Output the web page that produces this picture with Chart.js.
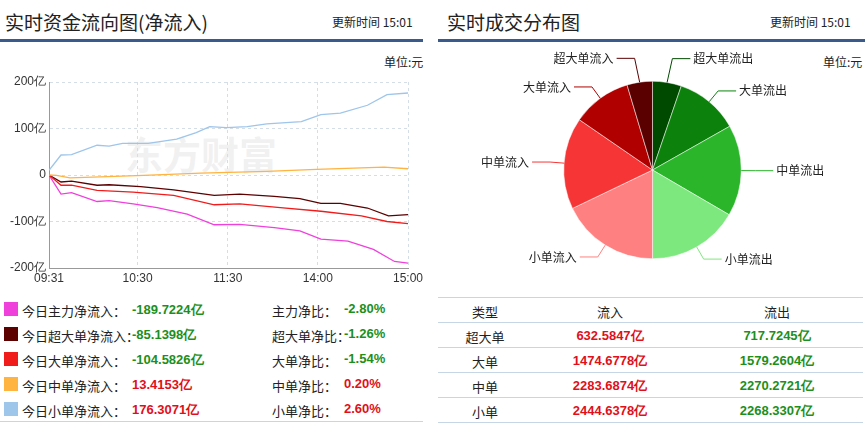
<!DOCTYPE html>
<html><head><meta charset="utf-8">
<script src="https://cdn.jsdelivr.net/npm/chart.js@4/dist/chart.umd.min.js"></script>
<style>
body{margin:0;width:865px;height:428px;background:#fff;font-family:"Microsoft YaHei","Noto Sans CJK SC",sans-serif;position:relative;overflow:hidden;color:#222}
.a{position:absolute;white-space:nowrap}
.t{font-size:19px;top:8px}
.u{font-size:12px;top:13px}
.bar{position:absolute;top:39px;height:3px;background:#3a5a8c}
.s{font-size:12px}
.g{color:#1c8f1c;font-weight:bold;font-family:Arial,"Liberation Sans",sans-serif}
.r{color:#e0101a;font-weight:bold;font-family:Arial,"Liberation Sans",sans-serif}
.hl{position:absolute;left:438px;width:425px;height:1px;background:#c7d6e4}
.sq{position:absolute;width:14px;height:14px;left:4px}
</style></head><body>
<div class="a t" style="left:5px">实时资金流向图(净流入)</div>
<div class="a u" style="left:332px">更新时间 15:01</div>
<div class="bar" style="left:0;width:423px"></div>
<div class="a t" style="left:447px">实时成交分布图</div>
<div class="a u" style="left:770px">更新时间 15:01</div>
<div class="bar" style="left:438px;width:427px"></div>
<div class="a s" style="left:384px;top:53px">单位:元</div>
<div class="a s" style="left:823px;top:53px">单位:元</div>
<div class="a" style="left:125px;top:125px;font-size:38px;font-weight:bold;color:rgba(200,200,200,0.25)">东方财富</div>
<canvas id="c1" style="position:absolute;left:0;top:62px"></canvas>
<canvas id="c2" style="position:absolute;left:440px;top:40px"></canvas>
<div id="leg"></div>
<div id="tbl"></div>
<script>
const timeLabels = ['09:31','10:30','11:30','14:00','15:00'];
const timeTicks = [0,59,119,179,239];
const mainMin = [0,8,15,32,40,56,72,92,110,127,150,167,181,199,216,230,239];
const mainVal = [0,-41,-38,-57,-55,-62,-70,-84,-107,-106,-113,-120,-138,-142,-160,-186,-189.7];
const superMin = [0,8,15,32,40,61,83,110,127,150,167,181,194,212,226,239];
const superVal = [0,-15,-13,-22,-21,-25,-32,-44,-41,-46,-51,-61,-61,-71,-88,-85.1];
const bigMin = [0,8,15,32,56,83,110,127,154,181,208,225,239];
const bigVal = [0,-22,-22,-33,-37,-44,-64,-62,-70,-78,-88,-100,-104.6];
const midMin = [0,5,14,34,63,101,145,178,223,239];
const midVal = [0,-1,-6,-4,-1,4,8,12,17,13.4];
const smallMin = [0,8,15,32,40,49,66,85,98,107,118,132,145,168,181,194,212,225,239];
const smallVal = [10,43,44,64,62,68,68,77,91,104,102,104,110,115,130,133,150,173,176.3];
const seriesNames = ['今日主力净流入','今日超大单净流入','今日大单净流入','今日中单净流入','今日小单净流入'];
const seriesColors = ['#f040dc','#5c0000','#f01c1c','#ffb340','#9ec5ea'];
const netValues = ['-189.7224亿','-85.1398亿','-104.5826亿','13.4153亿','176.3071亿'];
const ratioNames = ['主力净比','超大单净比','大单净比','中单净比','小单净比'];
const ratioValues = ['-2.80%','-1.26%','-1.54%','0.20%','2.60%'];
const pieLabels = ['超大单流出','大单流出','中单流出','小单流出','小单流入','中单流入','大单流入','超大单流入'];
const pieValues = [717.7245,1579.2604,2270.2721,2268.3307,2444.6378,2283.6874,1474.6778,632.5847];
const pieColors = ['#004a00','#0c820c','#2ab52a','#7de87d','#ff8080','#f63636','#b00000','#5a0000'];
const tblTypes = ['超大单','大单','中单','小单'];
const tblIn = ['632.5847亿','1474.6778亿','2283.6874亿','2444.6378亿'];
const tblOut = ['717.7245亿','1579.2604亿','2270.2721亿','2268.3307亿'];

const xs=[mainMin,superMin,bigMin,midMin,smallMin], ys=[mainVal,superVal,bigVal,midVal,smallVal];
const dsets = xs.map((m,i)=>({data:m.map((x,j)=>({x,y:ys[i][j]})),borderColor:seriesColors[i],borderWidth:1.3,pointRadius:0,tension:0}));
const c1=document.getElementById('c1');c1.width=428;c1.height=228;c1.style.width='428px';c1.style.height='228px';
new Chart(c1,{type:'line',data:{datasets:dsets.reverse()},options:{responsive:false,animation:false,
 layout:{padding:{top:20,right:20,left:0,bottom:0}},
 plugins:{legend:{display:false},tooltip:{enabled:false}},
 scales:{x:{type:'linear',min:0,max:239,afterBuildTicks:s=>{s.ticks=timeTicks.map(v=>({value:v}))},
   afterFit:s=>{s.height=22},
   ticks:{autoSkip:false,maxRotation:0,color:'#333',font:{size:12},padding:3,callback:(v)=>timeLabels[timeTicks.indexOf(v)]},
   grid:{color:'#d5dde6',tickLength:0},border:{dash:[3,3],display:true,color:'#999'}},
  y:{min:-200,max:200,afterFit:s=>{s.width=49},
   ticks:{stepSize:100,color:'#333',font:{size:12},padding:3,callback:v=>v===0?'0':v+'亿'},
   grid:{color:'#d5dde6',tickLength:0},border:{dash:[3,3],color:'#999'}}}}});

const c2=document.getElementById('c2');c2.width=425;c2.height=250;c2.style.width='425px';c2.style.height='250px';
const labPlug={id:'lab',afterDatasetsDraw(ch){const ctx=ch.ctx;const meta=ch.getDatasetMeta(0);
 ctx.save();ctx.font='12px "Microsoft YaHei","Noto Sans CJK SC",sans-serif';ctx.textBaseline='middle';
 meta.data.forEach((a,i)=>{const mid=(a.startAngle+a.endAngle)/2;const r=a.outerRadius;
  const cx=a.x,cy=a.y;let ang=mid;
  const p0=[cx+Math.cos(ang)*r,cy+Math.sin(ang)*r];
  const p1=[cx+Math.cos(ang)*(r+14),cy+Math.sin(ang)*(r+14)];
  if(i==0){p1[1]-=10;p1[0]+=3}
  if(i==7){p1[1]-=10;p1[0]-=3}
  const right=Math.cos(ang)>=0;const p2=[p1[0]+(right?18:-18),p1[1]];
  ctx.strokeStyle=pieColors[i];ctx.lineWidth=1;ctx.beginPath();ctx.moveTo(...p0);ctx.lineTo(...p1);ctx.lineTo(...p2);ctx.stroke();
  ctx.fillStyle='#222';ctx.textAlign=right?'left':'right';ctx.fillText(pieLabels[i],p2[0]+(right?3:-3),p2[1]);});
 ctx.restore();}};
new Chart(c2,{type:'pie',data:{labels:pieLabels,datasets:[{data:pieValues,backgroundColor:pieColors,borderColor:'#fff',borderWidth:0.5}]},
 options:{responsive:false,animation:false,layout:{padding:{top:41,bottom:31}},plugins:{legend:{display:false},tooltip:{enabled:false}}},plugins:[labPlug]});

let h='';const rowY=[302,327,352,377,402];
for(let i=0;i<5;i++){const cls=netValues[i][0]=='-'?'g':'r';
 h+=`<div class="sq" style="top:${rowY[i]}px;background:${seriesColors[i]}"></div>`;
 h+=`<div class="a s" style="left:22px;top:${rowY[i]-1}px;font-size:13px">${seriesNames[i]}：</div>`;
 h+=`<div class="a s ${cls}" style="left:132px;top:${rowY[i]-1}px;font-size:13px">${netValues[i]}</div>`;
 h+=`<div class="a s" style="left:272px;top:${rowY[i]-1}px;font-size:13px">${ratioNames[i]}：</div>`;
 h+=`<div class="a s ${cls}" style="left:344px;top:${rowY[i]-1}px;font-size:13px">${ratioValues[i]}</div>`;}
h+='<div style="position:absolute;left:0;top:421px;width:423px;height:1px;background:#c7d6e4"></div>';
document.getElementById('leg').innerHTML=h;
let t='';const ly=[297,322,347,372,397,422];ly.forEach(y=>t+=`<div class="hl" style="top:${y}px"></div>`);
const cx=[485,610,777];
const cell=(x,y,txt,cls)=>`<div class="a s ${cls||''}" style="left:${x}px;top:${y}px;transform:translateX(-50%);font-size:13px">${txt}</div>`;
t+=cell(cx[0],302,'类型')+cell(cx[1],302,'流入')+cell(cx[2],302,'流出');
for(let i=0;i<4;i++){const y=327+25*i;t+=cell(cx[0],y,tblTypes[i])+cell(cx[1],y,tblIn[i],'r')+cell(cx[2],y,tblOut[i],'g');}
document.getElementById('tbl').innerHTML=t;
</script></body></html>
